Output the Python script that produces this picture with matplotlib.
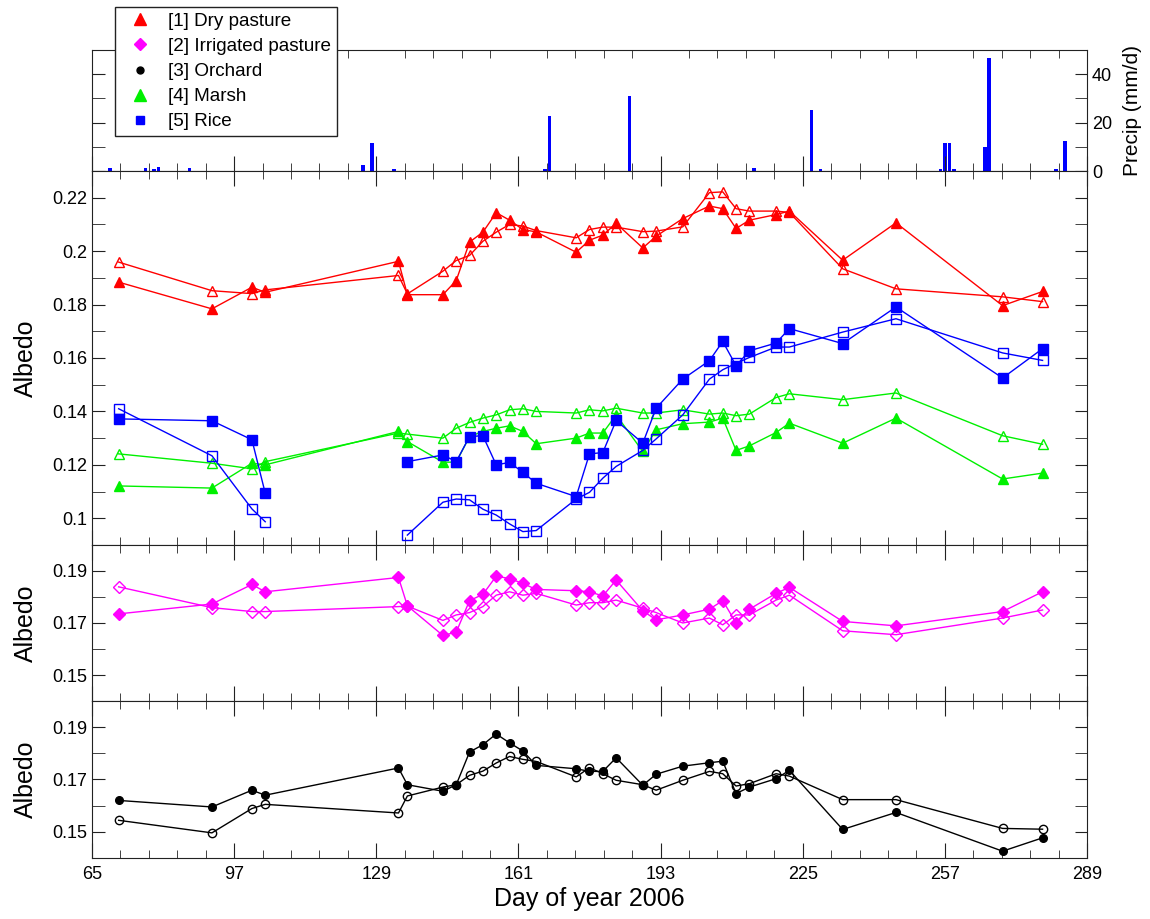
import numpy as np
import matplotlib
matplotlib.use("Agg")
import matplotlib.pyplot as plt
from matplotlib.lines import Line2D
from matplotlib.ticker import MultipleLocator, FixedLocator, FuncFormatter

plt.rcParams['font.family'] = ['Liberation Sans', 'DejaVu Sans']

# Sampling days (day of year 2006)
days = [71, 92, 101, 104, 134, 136, 144, 147, 150, 153, 156, 159, 162, 165, 174, 177,
        180, 183, 189, 192, 198, 204, 207, 210, 213, 219, 222, 234, 246, 270, 279]

# [1] Dry pasture
dry_a = [0.1884, 0.1784, 0.1865, 0.1846, 0.1962, 0.1837, 0.1837, 0.1890, 0.2034, 0.2071, 0.2144,
         0.2116, 0.2081, 0.2072, 0.1996, 0.2041, 0.2060, 0.2104, 0.2012, 0.2056, 0.2122, 0.2169,
         0.2159, 0.2085, 0.2116, 0.2137, 0.2150, 0.1966, 0.2106, 0.1796, 0.1849]
dry_b = [0.1959, 0.1852, 0.1841, 0.1855, 0.1909, 0.1840, 0.1925, 0.1965, 0.1984, 0.2037, 0.2071,
         0.2100, 0.2094, 0.2077, 0.2050, 0.2081, 0.2090, 0.2090, 0.2073, 0.2075, 0.2091, 0.2219,
         0.2222, 0.2159, 0.2150, 0.2150, 0.2145, 0.1934, 0.1859, 0.1829, 0.1811]

# [2] Irrigated pasture
irr_a = [0.1735, 0.1773, 0.1848, 0.1820, 0.1875, 0.1766, 0.1652, 0.1665, 0.1786, 0.1810, 0.1880,
         0.1871, 0.1852, 0.1829, 0.1824, 0.1820, 0.1804, 0.1865, 0.1747, 0.1712, 0.1731, 0.1753,
         0.1786, 0.1700, 0.1753, 0.1814, 0.1837, 0.1706, 0.1689, 0.1744, 0.1820]
irr_b = [0.1839, 0.1759, 0.1744, 0.1744, 0.1763, 0.1765, 0.1710, 0.1731, 0.1740, 0.1763, 0.1807,
         0.1820, 0.1807, 0.1814, 0.1769, 0.1778, 0.1778, 0.1788, 0.1757, 0.1740, 0.1700, 0.1719,
         0.1693, 0.1731, 0.1731, 0.1788, 0.1807, 0.1670, 0.1655, 0.1719, 0.1750]

# [3] Orchard
orc_a = [0.1620, 0.1595, 0.1659, 0.1640, 0.1744, 0.1680, 0.1655, 0.1680, 0.1805, 0.1833, 0.1874,
         0.1840, 0.1809, 0.1754, 0.1741, 0.1731, 0.1731, 0.1783, 0.1678, 0.1720, 0.1751, 0.1764,
         0.1770, 0.1646, 0.1671, 0.1703, 0.1735, 0.1509, 0.1574, 0.1426, 0.1477]
orc_b = [0.1544, 0.1496, 0.1589, 0.1605, 0.1572, 0.1637, 0.1671, 0.1680, 0.1716, 0.1732, 0.1763,
         0.1788, 0.1777, 0.1769, 0.1710, 0.1745, 0.1722, 0.1697, 0.1680, 0.1659, 0.1697, 0.1731,
         0.1722, 0.1675, 0.1684, 0.1722, 0.1713, 0.1623, 0.1623, 0.1513, 0.1510]

# [4] Marsh
mar_a = [0.1121, 0.1113, 0.1206, 0.1200, 0.1325, 0.1287, 0.1210, 0.1210, 0.1306, 0.1325, 0.1337,
         0.1346, 0.1325, 0.1279, 0.1300, 0.1319, 0.1319, 0.1387, 0.1250, 0.1331, 0.1354, 0.1360,
         0.1375, 0.1254, 0.1271, 0.1321, 0.1356, 0.1281, 0.1375, 0.1147, 0.1169]
mar_b = [0.1241, 0.1206, 0.1185, 0.1212, 0.1319, 0.1315, 0.1300, 0.1337, 0.1359, 0.1375, 0.1387,
         0.1406, 0.1410, 0.1400, 0.1394, 0.1406, 0.1402, 0.1412, 0.1394, 0.1394, 0.1406, 0.1390,
         0.1394, 0.1384, 0.1390, 0.1452, 0.1466, 0.1444, 0.1469, 0.1309, 0.1277]

# [5] Rice (no data on day 134)
ric_a = [0.1372, 0.1365, 0.1294, 0.1094, np.nan, 0.1212, 0.1237, 0.1212, 0.1306, 0.1309, 0.1200,
         0.1209, 0.1172, 0.1131, 0.1081, 0.1241, 0.1246, 0.1366, 0.1281, 0.1412, 0.1521, 0.1590,
         0.1662, 0.1571, 0.1627, 0.1656, 0.1710, 0.1654, 0.1791, 0.1525, 0.1635]
ric_b = [0.1410, 0.1234, 0.1035, 0.0987, np.nan, 0.0937, 0.1060, 0.1072, 0.1069, 0.1034, 0.1012,
         0.0979, 0.0950, 0.0954, 0.1072, 0.1097, 0.1150, 0.1194, 0.1254, 0.1297, 0.1387, 0.1521,
         0.1556, 0.1580, 0.1602, 0.1641, 0.1641, 0.1697, 0.1747, 0.1619, 0.1591]

# Daily precipitation
rain_days = [69, 77, 79, 80, 87, 126, 128, 133, 167, 168, 186, 214, 227, 229,
             256, 257, 258, 259, 266, 267, 282, 284]
rain_mm = [1.1, 1.4, 0.7, 1.8, 1.4, 2.3, 11.4, 1.0, 1.0, 22.6, 30.8, 1.4, 25.1, 1.0,
           1.0, 11.6, 11.4, 1.0, 10.0, 46.6, 1.0, 12.6]

RED, MAG, GRN, BLU = '#ff0000', '#ff00ff', '#00f000', '#0000ff'

fig = plt.figure(figsize=(11.5, 9.19), dpi=100)
L, W = 0.080, 0.8652
ax_p = fig.add_axes([L, 0.8139, W, 0.1317])
ax_m = fig.add_axes([L, 0.4070, W, 0.4069])
ax_i = fig.add_axes([L, 0.2372, W, 0.1698])
ax_o = fig.add_axes([L, 0.0664, W, 0.1708])

xmajor = np.arange(65, 290, 32)
xminor = np.arange(65, 289.1, 6.4)


def style(ax):
    ax.set_xlim(65, 289)
    ax.xaxis.set_major_locator(FixedLocator(xmajor))
    ax.xaxis.set_minor_locator(FixedLocator(xminor))
    ax.tick_params(which='both', direction='in', top=True, right=True, labelsize=13,
                   color='#222222')
    ax.tick_params(axis='x', which='major', length=11, pad=6)
    ax.tick_params(axis='x', which='minor', length=6)
    ax.tick_params(axis='y', which='both', length=9)
    for s in ax.spines.values():
        s.set_color('#222222')


# precipitation bars
ax_p.bar(rain_days, rain_mm, width=0.8, color=BLU)
style(ax_p)
ax_p.set_ylim(0, 50)
ax_p.yaxis.set_major_locator(MultipleLocator(20))
ax_p.yaxis.set_minor_locator(MultipleLocator(10))
ax_p.tick_params(top=False, labelleft=False, labelright=True, labelbottom=False)
ax_p.yaxis.set_label_position('right')
ax_p.set_ylabel('Precip (mm/d)', fontsize=15)
ax_p.yaxis.set_label_coords(1.036, 0.5)


def pair(ax, a, b, color, marker, ms, ms_open):
    ax.plot(days, b, color=color, lw=1, marker=marker, ms=ms_open,
            mfc='none', mec=color, mew=1)
    ax.plot(days, a, color=color, lw=1, marker=marker, ms=ms, mfc=color, mec=color)


gfmt = FuncFormatter(lambda v, p: '{:g}'.format(round(v, 3)))

pair(ax_m, mar_a, mar_b, GRN, '^', 7.5, 7.5)
pair(ax_m, ric_a, ric_b, BLU, 's', 6.5, 6.5)
pair(ax_m, dry_a, dry_b, RED, '^', 7.5, 7.5)
style(ax_m)
ax_m.set_ylim(0.09, 0.23)
ax_m.yaxis.set_major_locator(MultipleLocator(0.02))
ax_m.yaxis.set_minor_locator(MultipleLocator(0.01))
ax_m.yaxis.set_major_formatter(gfmt)
ax_m.tick_params(labelbottom=False)
ax_m.set_ylabel('Albedo', fontsize=18)

pair(ax_i, irr_a, irr_b, MAG, 'D', 6, 6)
pair(ax_o, orc_a, orc_b, 'black', 'o', 5.5, 6)
for ax in (ax_i, ax_o):
    style(ax)
    ax.set_ylim(0.14, 0.20)
    ax.set_yticks([0.15, 0.17, 0.19])
    ax.yaxis.set_minor_locator(MultipleLocator(0.01))
    ax.yaxis.set_major_formatter(gfmt)
    ax.set_ylabel('Albedo', fontsize=18)
ax_i.tick_params(labelbottom=False)
ax_o.set_xlabel('Day of year 2006', fontsize=18, labelpad=3)

for ax in (ax_m, ax_i, ax_o):
    ax.yaxis.set_label_coords(-0.054, 0.5)

handles = [
    Line2D([], [], ls='none', marker='^', ms=8, color=RED),
    Line2D([], [], ls='none', marker='D', ms=6, color=MAG),
    Line2D([], [], ls='none', marker='o', ms=5, color='black'),
    Line2D([], [], ls='none', marker='^', ms=8, color=GRN),
    Line2D([], [], ls='none', marker='s', ms=6, color=BLU),
]
labels = ['[1] Dry pasture', '[2] Irrigated pasture', '[3] Orchard', '[4] Marsh', '[5] Rice']
leg = fig.legend(handles, labels, loc='upper left', bbox_to_anchor=(0.1, 0.9924),
                 fontsize=13.6, fancybox=False, framealpha=1, edgecolor='#222222',
                 borderpad=0.3, labelspacing=0.42, handletextpad=0.5, borderaxespad=0)
leg.get_frame().set_linewidth(1)

plt.savefig('out.png', dpi=100)
